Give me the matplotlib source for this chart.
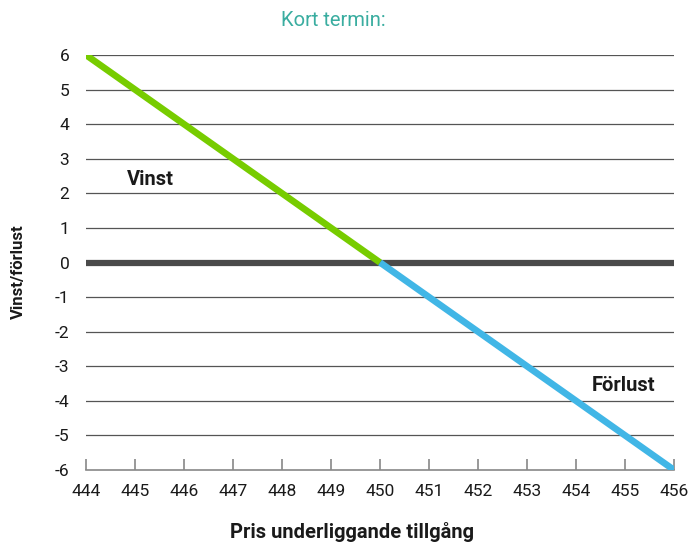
import numpy as np
import matplotlib.pyplot as plt

# data
price = [444, 450, 456]
pnl = [6, 0, -6]
xticks = list(range(444, 457))
yticks = list(range(-6, 7))

plt.rcParams['font.family'] = ['Roboto', 'DejaVu Sans']

fig = plt.figure(figsize=(6.91, 5.43), dpi=100)
ax = fig.add_axes([0.1245, 0.1344, 0.851, 0.7643])

ax.set_xlim(444, 456)
ax.set_ylim(-6, 6)

for y in yticks:
    if y in (0, -6):
        continue
    ax.axhline(y, color="#555555", lw=0.9, zorder=1)

ax.axhline(0, color="#4a4a4a", lw=4.5, zorder=2)
ax.plot(price[:2], pnl[:2], color="#77cc00", lw=4.8, solid_capstyle="butt", zorder=3)
ax.plot(price[1:], pnl[1:], color="#41b6e6", lw=4.8, solid_capstyle="butt", zorder=3)

for s in ["top", "right", "left"]:
    ax.spines[s].set_visible(False)
ax.spines["bottom"].set_color("#888888")
ax.spines["bottom"].set_linewidth(1.2)

ax.set_xticks(xticks)
ax.set_yticks(yticks)
ax.tick_params(axis="x", direction="in", length=8, width=1.2, color="#888888",
               pad=10, labelsize=12.5, labelcolor="#1a1a1a")
ax.tick_params(axis="y", length=0, pad=12, labelsize=12.5, labelcolor="#1a1a1a")
ax.set_yticklabels([str(v) for v in yticks])

ax.text(444.84, 2.4, "Vinst", fontsize=14.5, fontweight="bold", color="#1a1a1a", va="center")
ax.text(454.33, -3.55, "Förlust", fontsize=14.5, fontweight="bold", color="#1a1a1a", va="center")

fig.text(0.483, 0.963, "Kort termin:", color="#3aada0", fontsize=14.5, ha="center", va="center")
fig.text(0.509, 0.02, "Pris underliggande tillgång", fontsize=14.5, fontweight="bold",
         ha="center", va="center", color="#1a1a1a")
fig.text(0.026, 0.499, "Vinst/förlust", fontsize=12, fontweight="bold", rotation=90,
         ha="center", va="center", color="#1a1a1a")

fig.savefig("out.png", dpi=100)
